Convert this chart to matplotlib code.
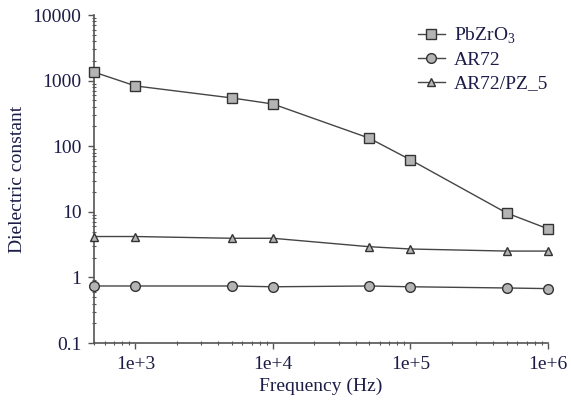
import matplotlib
matplotlib.use("Agg")
import matplotlib.pyplot as plt
from matplotlib.ticker import FixedLocator, FixedFormatter, LogLocator, NullFormatter

freq = [500, 1e3, 5e3, 1e4, 5e4, 1e5, 5e5, 1e6]
pbzro3 = [1350, 830, 545, 440, 133, 62, 9.6, 5.5]
ar72 = [0.74, 0.74, 0.74, 0.72, 0.74, 0.72, 0.69, 0.675]
ar72_pz5 = [4.2, 4.2, 3.95, 3.95, 2.94, 2.71, 2.52, 2.52]

xticks = [1e3, 1e4, 1e5, 1e6]
xticklabels = ["1e+3", "1e+4", "1e+5", "1e+6"]
yticks = [0.1, 1, 10, 100, 1000, 10000]
yticklabels = ["0.1", "1", "10", "100", "1000", "10000"]

plt.rcParams['font.family'] = ['Liberation Serif', 'DejaVu Serif']
plt.rcParams['mathtext.fontset'] = 'custom'
plt.rcParams['mathtext.rm'] = 'Liberation Serif'

fig = plt.figure(figsize=(5.71, 4.08), dpi=100)
ax = fig.add_axes([0.1646, 0.1593, 0.7951, 0.8039])

line_c = '#454545'
face_c = '#b4b4b4'
edge_c = '#333333'

ax.plot(freq, pbzro3, '-', color=line_c, lw=1.0, marker='s', ms=6.5,
        mfc=face_c, mec=edge_c, mew=1.0, label='PbZrO$_3$', clip_on=False, zorder=3)
ax.plot(freq, ar72, '-', color=line_c, lw=1.0, marker='o', ms=7,
        mfc=face_c, mec=edge_c, mew=1.0, label='AR72', clip_on=False, zorder=3)
ax.plot(freq, ar72_pz5, '-', color=line_c, lw=1.0, marker='^', ms=5.5,
        mfc=face_c, mec=edge_c, mew=1.0, label='AR72/PZ_5', clip_on=False, zorder=3)

ax.set_xscale('log')
ax.set_yscale('log')
ax.set_xlim(500, 1e6)
ax.set_ylim(0.1, 10000)

ax.xaxis.set_major_locator(FixedLocator(xticks))
ax.xaxis.set_major_formatter(FixedFormatter(xticklabels))
ax.xaxis.set_minor_locator(LogLocator(base=10, subs=range(2, 10)))
ax.xaxis.set_minor_formatter(NullFormatter())
ax.yaxis.set_major_locator(FixedLocator(yticks))
ax.yaxis.set_major_formatter(FixedFormatter(yticklabels))
ax.yaxis.set_minor_locator(LogLocator(base=10, subs=range(2, 10)))
ax.yaxis.set_minor_formatter(NullFormatter())

for s in ['top', 'right']:
    ax.spines[s].set_visible(False)
for s in ['left', 'bottom']:
    ax.spines[s].set_color('#555555')
    ax.spines[s].set_linewidth(1.2)

tick_c = '#1c1c48'
ax.tick_params(axis='both', which='major', direction='out', length=4, width=1,
               color='#555555', labelsize=14, labelcolor=tick_c, pad=5)
ax.tick_params(axis='both', which='minor', direction='inout', length=3, width=0.8,
               color='#555555')

ax.set_xlabel('Frequency (Hz)', fontsize=14, color=tick_c, labelpad=4)
ax.set_ylabel('Dielectric constant', fontsize=14, color=tick_c, labelpad=5)

ax.legend(loc='upper left', bbox_to_anchor=(0.696, 0.992), frameon=False, fontsize=14,
          handlelength=1.4, handletextpad=0.45, labelspacing=0.3, labelcolor=tick_c,
          borderaxespad=0)

fig.savefig('out.png', dpi=100)
